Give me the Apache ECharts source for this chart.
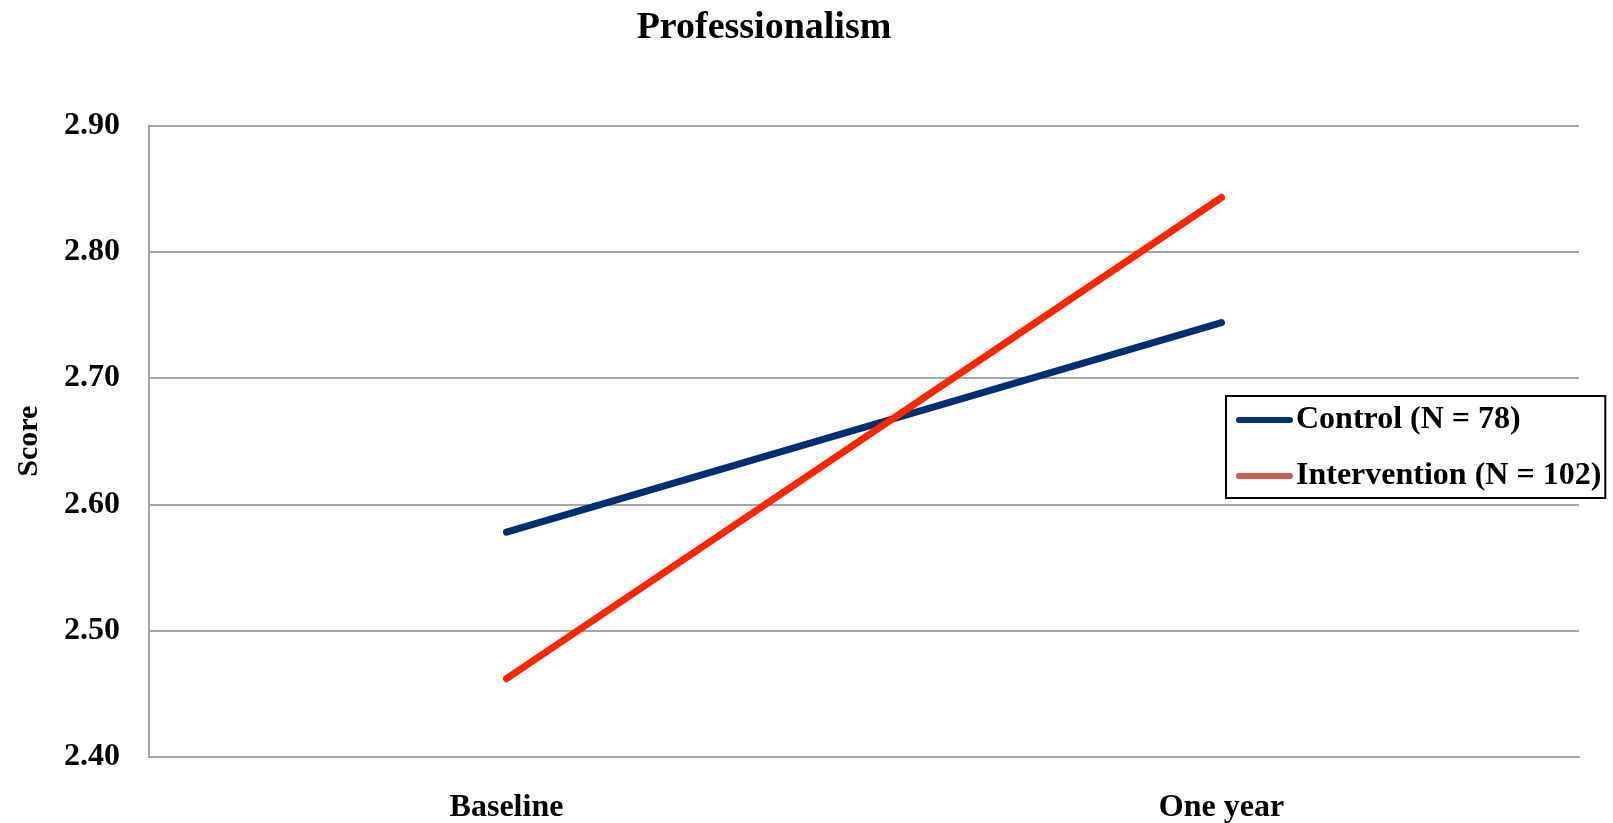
<!DOCTYPE html>
<html>
<head>
<meta charset="utf-8">
<script src="https://cdn.jsdelivr.net/npm/echarts@6/dist/echarts.min.js"></script>
<style>
html,body{margin:0;padding:0;background:#fff;}
#chart{width:1613px;height:823px;}
</style>
</head>
<body>
<div id="chart"></div>
<script>
const categories = ['Baseline', 'One year'];
const controlValues = [2.578, 2.744];
const interventionValues = [2.462, 2.843];
const seriesNames = ['Control (N = 78)', 'Intervention (N = 102)'];
const yTicks = [2.40, 2.50, 2.60, 2.70, 2.80, 2.90];

const FONT = '"Liberation Serif", "Times New Roman", serif';
const chart = echarts.init(document.getElementById('chart'));
const capsule = 'path://M3,0 H54 A3,3 0 0 1 54,6 H3 A3,3 0 0 1 3,0 Z';

chart.setOption({
  animation: false,
  backgroundColor: '#fff',
  title: {
    text: 'Professionalism',
    left: 759,
    textAlign: 'center',
    top: 4,
    textStyle: { fontFamily: FONT, fontWeight: 'bold', fontSize: 38, color: '#000' }
  },
  grid: { left: 149, right: 34, top: 125.5, bottom: 66, containLabel: false, outerBoundsMode: 'none' },
  legend: {
    orient: 'vertical',
    left: 1226,
    top: 396,
    padding: [8, 4, 6, 10],
    itemGap: 24,
    itemWidth: 57,
    itemHeight: 7,
    borderColor: '#000',
    borderWidth: 2,
    backgroundColor: '#fff',
    textStyle: { fontFamily: FONT, fontWeight: 'bold', fontSize: 32, color: '#000', padding: [0, 0, 0, -2] },
    data: [
      { name: seriesNames[0], icon: capsule, itemStyle: { color: '#002f6f' } },
      { name: seriesNames[1], icon: capsule, itemStyle: { color: '#cd5c57' } }
    ]
  },
  xAxis: {
    type: 'category',
    data: categories,
    boundaryGap: true,
    axisLine: { lineStyle: { color: '#a6a6a6', width: 2 } },
    axisTick: { show: false },
    axisLabel: { margin: 35, fontFamily: FONT, fontWeight: 'bold', fontSize: 32, color: '#000' }
  },
  yAxis: {
    type: 'value',
    min: yTicks[0],
    max: yTicks[yTicks.length - 1],
    interval: 0.1,
    name: 'Score',
    nameLocation: 'middle',
    nameRotate: 90,
    nameGap: 105,
    nameTextStyle: { fontFamily: FONT, fontWeight: 'bold', fontSize: 30, color: '#000' },
    axisLine: { show: true, lineStyle: { color: '#a6a6a6', width: 2 } },
    axisTick: { show: false },
    splitLine: { lineStyle: { color: '#a6a6a6', width: 2 } },
    axisLabel: {
      margin: 29,
      padding: [8, 0, 0, 0],
      fontFamily: FONT, fontWeight: 'bold', fontSize: 32, color: '#000',
      formatter: v => v.toFixed(2)
    }
  },
  series: [
    {
      name: seriesNames[0],
      type: 'line',
      data: controlValues,
      symbol: 'none',
      lineStyle: { color: '#002f6f', width: 7, cap: 'round' },
      itemStyle: { color: '#002f6f' },
      z: 3
    },
    {
      name: seriesNames[1],
      type: 'line',
      data: interventionValues,
      symbol: 'none',
      lineStyle: { color: '#ff2600', width: 7, cap: 'round' },
      itemStyle: { color: '#ff2600' },
      z: 4
    }
  ]
});
</script>
</body>
</html>
